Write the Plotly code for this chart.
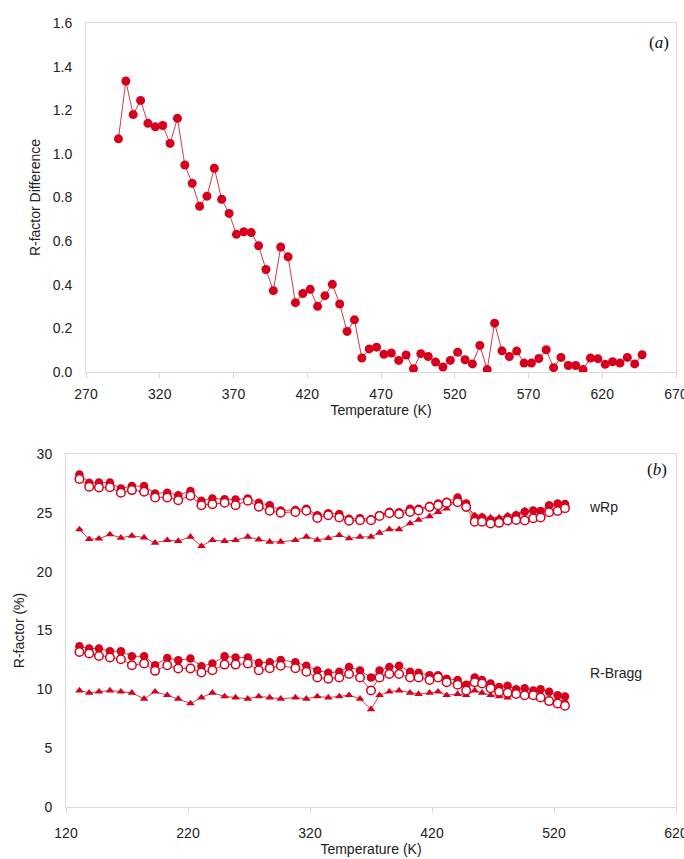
import plotly.graph_objects as go

# ---------------- Panel (a) data ----------------
temp_a = [292, 297, 302, 307, 312, 317, 322, 327, 332, 337, 342, 347, 352, 357, 362, 367,
          372, 377, 382, 387, 392, 397, 402, 407, 412, 417, 422, 427, 432, 437, 442, 447,
          452, 457, 462, 467, 472, 477, 482, 487, 492, 497, 502, 507, 512, 517, 522, 527,
          532, 537, 542, 547, 552, 557, 562, 567, 572, 577, 582, 587, 592, 597, 602, 607,
          612, 617, 622, 627, 632, 637, 642, 647]
rdiff_a = [1.069, 1.334, 1.180, 1.245, 1.140, 1.124, 1.130, 1.048, 1.163, 0.949, 0.865, 0.760,
           0.806, 0.934, 0.792, 0.727, 0.631, 0.643, 0.639, 0.579, 0.470, 0.373, 0.573, 0.528,
           0.318, 0.360, 0.379, 0.301, 0.350, 0.402, 0.312, 0.186, 0.239, 0.064, 0.106, 0.114,
           0.081, 0.087, 0.053, 0.078, 0.015, 0.084, 0.071, 0.046, 0.023, 0.053, 0.091, 0.056,
           0.037, 0.122, 0.011, 0.224, 0.097, 0.071, 0.096, 0.041, 0.041, 0.062, 0.102, 0.020,
           0.067, 0.030, 0.030, 0.011, 0.064, 0.061, 0.035, 0.047, 0.041, 0.067, 0.037, 0.079]

# ---------------- Panel (b) data ----------------
temp_b = [131, 139, 147, 156, 165, 174, 184, 193, 203, 212, 222, 231, 240, 250, 259, 269, 278,
          287, 296, 308, 317, 326, 335, 344, 352, 361, 370, 377, 385, 393, 402, 409, 418, 425, 432,
          441, 448, 455, 461, 468, 475, 482, 489, 496, 503, 509, 516, 523, 529]

wrp_filled = [28.26, 27.55, 27.57, 27.57, 27.07, 27.27, 27.27, 26.65, 26.71, 26.50, 26.85, 26.02,
              26.22, 26.16, 26.13, 26.22, 25.85,
              25.65, 25.20, 25.25, 25.35, 24.80, 24.96, 24.90, 24.50, 24.55, 24.45, 24.80, 25.10,
              25.05, 25.35, 25.35, 25.60, 25.80, 25.95,
              26.30, 25.80, 24.60, 24.60, 24.40, 24.40, 24.60, 24.80, 25.10, 25.20, 25.15, 25.65,
              25.80, 25.75]
wrp_open = [27.87, 27.21, 27.15, 27.18, 26.70, 26.93, 26.79, 26.31, 26.31, 26.08, 26.45, 25.65,
            25.74, 25.85, 25.65, 26.02, 25.51,
            25.17, 25.00, 25.08, 25.17, 24.57, 24.80, 24.60, 24.32, 24.37, 24.37, 24.74, 24.96,
            24.90, 25.07, 25.20, 25.50, 25.65, 25.85,
            25.90, 25.50, 24.25, 24.25, 24.10, 24.15, 24.35, 24.40, 24.35, 24.55, 24.60, 25.05,
            25.15, 25.40]
wrp_tri = [23.59, 22.76, 22.80, 23.16, 22.88, 23.05, 22.90, 22.45, 22.68, 22.60, 22.96, 22.17,
           22.68, 22.60, 22.68, 22.96, 22.73,
           22.54, 22.54, 22.68, 22.96, 22.70, 22.85, 23.10, 22.82, 22.96, 22.96, 23.30, 23.60,
           23.60, 24.10, 24.40, 24.70, 25.07, 25.35,
           26.10, 25.60, 24.80, 24.70, 24.60, 24.60, 24.80, 24.90, 25.20, 25.20, 25.20, 25.60,
           25.70, 25.80]

bragg_filled = [13.66, 13.47, 13.47, 13.24, 13.24, 12.81, 12.81, 12.05, 12.67, 12.47, 12.62, 11.96,
                12.19, 12.81, 12.70, 12.70, 12.25,
                12.30, 12.50, 12.30, 12.00, 11.60, 11.40, 11.50, 11.90, 11.60, 11.00, 11.60, 11.90,
                12.00, 11.50, 11.40, 11.20, 11.20, 10.90,
                10.80, 10.40, 11.00, 10.80, 10.50, 10.20, 10.30, 10.00, 10.10, 9.90, 10.00, 9.80,
                9.50, 9.40]
bragg_open = [13.18, 13.04, 12.84, 12.70, 12.56, 12.05, 12.19, 11.57, 12.05, 11.77, 11.77, 11.43,
              11.62, 12.10, 12.10, 12.19, 11.62,
              11.80, 12.00, 11.80, 11.50, 11.00, 10.90, 11.00, 11.30, 11.00, 9.90, 11.00, 11.30,
              11.30, 11.00, 11.00, 10.80, 11.00, 10.60,
              10.40, 9.90, 10.60, 10.50, 10.10, 9.80, 9.70, 9.60, 9.50, 9.50, 9.30, 9.00,
              8.80, 8.60]
bragg_tri = [9.90, 9.70, 9.80, 9.90, 9.80, 9.70, 9.20, 9.80, 9.50, 9.20, 8.80, 9.30,
             9.70, 9.40, 9.30, 9.20, 9.40,
             9.30, 9.20, 9.30, 9.20, 9.40, 9.30, 9.40, 9.50, 9.20, 8.30, 9.50, 9.80,
             9.90, 9.70, 9.60, 9.70, 9.80, 9.50,
             9.60, 9.50, 9.90, 9.70, 9.50, 9.40, 9.30, 9.60, 9.50, 9.40, 9.20, 9.20,
             9.00, 9.00]

RED = "#d6001c"
LINE = "#d23a45"
AX = "#d9d9d9"
FONT = "Liberation Sans, Arial, sans-serif"
SERIF = "Liberation Serif, Times New Roman, serif"

fig = go.Figure()

# Panel (a)
fig.add_trace(go.Scatter(x=temp_a, y=rdiff_a, mode="lines+markers",
                         line=dict(color=LINE, width=1),
                         marker=dict(color=RED, size=9, symbol="circle"),
                         xaxis="x", yaxis="y", showlegend=False))

# Panel (b)
for ys in (wrp_tri, bragg_tri):
    fig.add_trace(go.Scatter(x=temp_b, y=ys, mode="lines+markers",
                             line=dict(color=LINE, width=1),
                             marker=dict(color=RED, size=7.5, symbol="triangle-up"),
                             xaxis="x2", yaxis="y2", showlegend=False))
for ys in (wrp_filled, bragg_filled):
    fig.add_trace(go.Scatter(x=temp_b, y=ys, mode="lines+markers",
                             line=dict(color=LINE, width=1),
                             marker=dict(color=RED, size=8.5, symbol="circle"),
                             xaxis="x2", yaxis="y2", showlegend=False))
for ys in (wrp_open, bragg_open):
    fig.add_trace(go.Scatter(x=temp_b, y=ys, mode="lines+markers",
                             line=dict(color=LINE, width=1),
                             marker=dict(color="white", size=8.5, symbol="circle",
                                         line=dict(color=RED, width=1.5)),
                             xaxis="x2", yaxis="y2", showlegend=False))

W, H = 684, 859

def xd(a, b):
    return [a / W, b / W]

def yd(top, bottom):
    return [1 - bottom / H, 1 - top / H]

def px(x, y):
    return dict(x=x / W, y=1 - y / H, xref="paper", yref="paper",
                xanchor="center", yanchor="middle", showarrow=False)

tickfont = dict(family=FONT, size=14, color="#222222")
titlefont = dict(family=FONT, size=14, color="#222222")

common_x = dict(showgrid=False, zeroline=False, showline=True, linecolor=AX, linewidth=1,
                mirror=True, ticks="outside", ticklen=5, tickcolor=AX, tickfont=tickfont,
                automargin=False, ticklabeloverflow="allow")
common_y = dict(showgrid=False, zeroline=False, showline=True, linecolor=AX, linewidth=1,
                mirror=True, ticks="", tickfont=tickfont, ticklabelstandoff=10,
                automargin=False, ticklabeloverflow="allow")

fig.update_layout(
    template="none",
    width=W, height=H,
    margin=dict(l=0, r=0, t=0, b=0),
    paper_bgcolor="white", plot_bgcolor="white",
    xaxis=dict(domain=xd(86, 676), range=[270, 670], tickvals=[270, 320, 370, 420, 470, 520, 570, 620, 670],
               title=dict(text="Temperature (K)", font=titlefont, standoff=1),
               ticklabelstandoff=4, anchor="y", **common_x),
    yaxis=dict(domain=yd(23, 372), range=[0, 1.6], tickvals=[0, 0.2, 0.4, 0.6, 0.8, 1.0, 1.2, 1.4, 1.6],
               tickformat=".1f",
               title=dict(text="R-factor Difference", font=titlefont, standoff=8),
               anchor="x", **common_y),
    xaxis2=dict(domain=xd(66, 676), range=[120, 620], tickvals=[120, 220, 320, 420, 520, 620],
                title=dict(text="Temperature (K)", font=titlefont, standoff=3),
                ticklabelstandoff=8, anchor="y2", **common_x),
    yaxis2=dict(domain=yd(454, 807), range=[0, 30], tickvals=[0, 5, 10, 15, 20, 25, 30],
                title=dict(text="R-factor (%)", font=titlefont, standoff=8),
                anchor="x2", **common_y),
    annotations=[
        dict(text="(<i>a</i>)", font=dict(family=SERIF, size=17, color="#111111"), **px(659, 42)),
        dict(text="(<i>b</i>)", font=dict(family=SERIF, size=17, color="#111111"), **px(657, 469)),
        dict(text="wRp", font=dict(family=FONT, size=14, color="#222222"), **px(603, 507)),
        dict(text="R-Bragg", font=dict(family=FONT, size=14, color="#222222"), **px(616, 673)),
    ],
)

fig.write_html("out.html", config={"displayModeBar": False},
               post_script="document.body.style.margin='0';document.body.style.overflow='hidden';")
